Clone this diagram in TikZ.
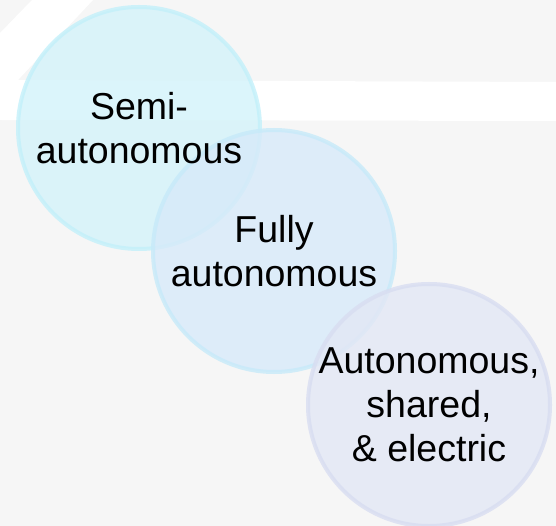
\documentclass[tikz,border=0pt]{standalone}
\usepackage{fontspec}
\setmainfont{Liberation Sans}
\definecolor{bggray}{HTML}{F6F6F6}
\definecolor{semifill}{RGB}{211,243,250}
\definecolor{semiedge}{RGB}{195,240,250}
\definecolor{fullyfill}{RGB}{215,234,250}
\definecolor{fullyedge}{RGB}{199,234,249}
\definecolor{sharedfill}{RGB}{227,231,245}
\definecolor{sharededge}{RGB}{216,221,241}
\begin{document}
\begin{tikzpicture}[x=1pt, y=-1pt,
    bubble/.style={circle, minimum size=242pt, inner sep=0pt, line width=4pt,
        fill opacity=0.8, draw opacity=0.8},
    label/.style={align=center, font=\fontsize{37.5}{44}\selectfont}]
    \useasboundingbox (0,0) rectangle (556,526);
    \fill[bggray] (0,0) rectangle (556,526);
    \fill[white] (32,0) -- (93,0) -- (18,80) -- (556,82) -- (556,121) -- (0,120) -- (0,33) -- cycle;
    % circles first, texts on top
    \node[bubble, fill=semifill, draw=semiedge] (semi) at (139,128) {};
    \node[bubble, fill=fullyfill, draw=fullyedge] (fully) at (274,251) {};
    \node[bubble, fill=sharedfill, draw=sharededge] (shared) at (429,405) {};
    \node[label] (semitext) at (semi.center) {Semi-\\autonomous};
    \node[label] (fullytext) at (fully.center) {Fully\\autonomous};
    \node[label] (sharedtext) at (shared.center) {Autonomous,\\shared,\\\& electric};
\end{tikzpicture}
\end{document}
